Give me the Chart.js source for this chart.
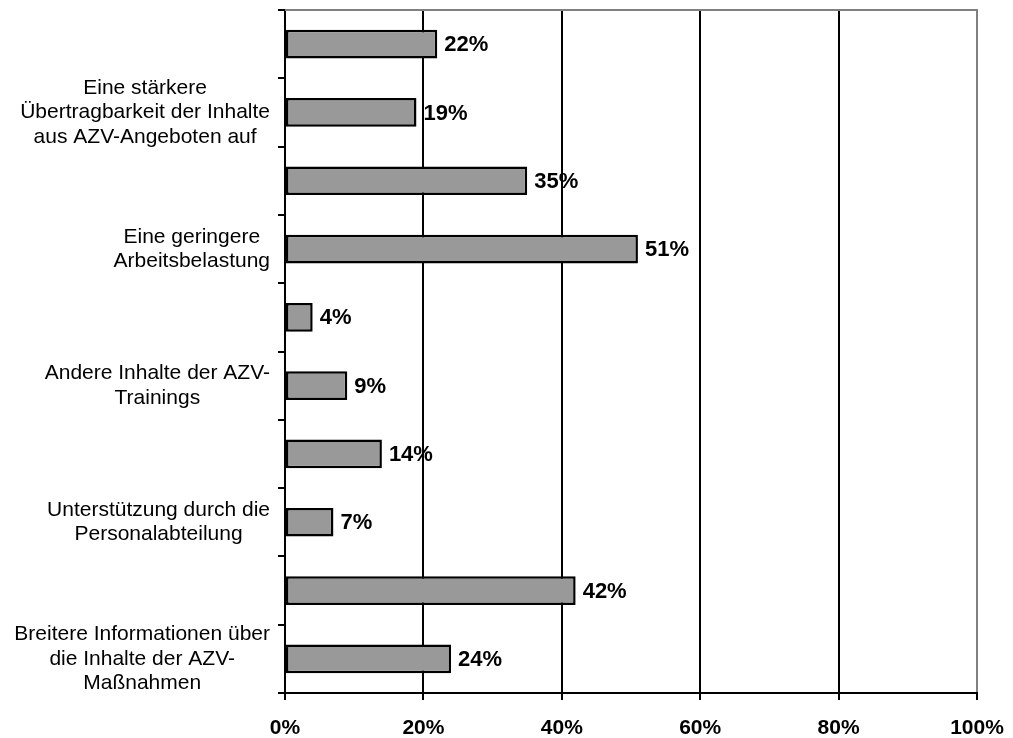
<!DOCTYPE html>
<html>
<head>
<meta charset="utf-8">
<script src="https://cdn.jsdelivr.net/npm/chart.js@4/dist/chart.umd.min.js"></script>
<style>
html,body{margin:0;padding:0;background:#fff;}
#wrap{width:1013px;height:738px;position:relative;}
</style>
</head>
<body>
<div id="wrap"><canvas id="c"></canvas></div>
<script>
// Category labels (top to bottom); empty ones are not shown in the original
const categories = [
  [""],
  ["Eine stärkere", "Übertragbarkeit der Inhalte", "aus AZV-Angeboten auf"],
  [""],
  ["Eine geringere", "Arbeitsbelastung"],
  [""],
  ["Andere Inhalte der AZV-", "Trainings"],
  [""],
  ["Unterstützung durch die", "Personalabteilung"],
  [""],
  ["Breitere Informationen über", "die Inhalte der AZV-", "Maßnahmen"]
];
const values = [22, 19, 35, 51, 4, 9, 14, 7, 42, 24];
const xTickValues = [0, 20, 40, 60, 80, 100];
const xTickLabels = ["0%", "20%", "40%", "60%", "80%", "100%"];

const FONT = "Arial, 'Liberation Sans', sans-serif";

const extras = {
  id: 'extras',
  afterDraw(chart) {
    const ctx = chart.ctx;
    const ca = chart.chartArea;
    const ys = chart.scales.y;
    // top gray border
    ctx.save();
    ctx.strokeStyle = '#808080';
    ctx.lineWidth = 2;
    ctx.beginPath();
    ctx.moveTo(ca.left, ca.top);
    ctx.lineTo(ca.right + 1, ca.top);
    ctx.stroke();
    // category labels, lines centred within a right-aligned block
    ctx.fillStyle = '#000';
    ctx.font = "21px " + FONT;
    ctx.textAlign = 'center';
    ctx.textBaseline = 'middle';
    const lh = 24.5;
    const rightEdge = 270;
    categories.forEach((lines, i) => {
      if (!lines.join('')) return;
      const w = Math.max(...lines.map(l => ctx.measureText(l).width));
      const cx = rightEdge - w / 2;
      const cy = ys.getPixelForValue(i);
      const n = lines.length;
      lines.forEach((l, k) => {
        ctx.fillText(l, cx, cy + (k - (n - 1) / 2) * lh);
      });
    });
    // value labels
    ctx.font = "bold 22px " + FONT;
    ctx.textAlign = 'left';
    const meta = chart.getDatasetMeta(0);
    meta.data.forEach((bar, i) => {
      ctx.fillText(values[i] + '%', bar.x + 7, bar.y + 1);
    });
    ctx.restore();
  }
};

new Chart(document.getElementById('c'), {
  type: 'bar',
  data: {
    labels: categories.map(l => l.join(' ')),
    datasets: [{
      data: values,
      backgroundColor: '#999999',
      borderColor: '#000000',
      borderWidth: 2.5,
      borderSkipped: false,
      categoryPercentage: 1,
      barPercentage: 0.42
    }]
  },
  options: {
    indexAxis: 'y',
    responsive: true,
    maintainAspectRatio: false,
    animation: false,
    layout: { padding: { top: 10, right: 36, bottom: 0, left: 0 } },
    plugins: { legend: { display: false }, tooltip: { enabled: false } },
    scales: {
      x: {
        min: 0, max: 100,
        afterBuildTicks(scale) { scale.ticks = xTickValues.map(v => ({ value: v })); },
        afterFit(scale) { scale.height = 45; scale.paddingLeft = 0; scale.paddingRight = 0; },
        ticks: {
          callback: (v) => xTickLabels[xTickValues.indexOf(v)],
          font: { family: FONT, size: 21, weight: 'bold' },
          color: '#000',
          padding: 16,
          maxRotation: 0
        },
        grid: {
          color: (c) => (c.tick && c.tick.value === 100) ? '#808080' : '#000',
          lineWidth: 2,
          tickColor: '#000',
          tickLength: 7
        },
        border: { color: '#000', width: 2 }
      },
      y: {
        afterFit(scale) { scale.width = 285; scale.paddingTop = 0; scale.paddingBottom = 0; },
        ticks: { display: false },
        grid: {
          offset: true,
          drawOnChartArea: false,
          drawTicks: true,
          tickLength: 7,
          color: '#000',
          lineWidth: 2
        },
        border: { color: '#000', width: 2 }
      }
    }
  },
  plugins: [extras]
});
</script>
</body>
</html>
